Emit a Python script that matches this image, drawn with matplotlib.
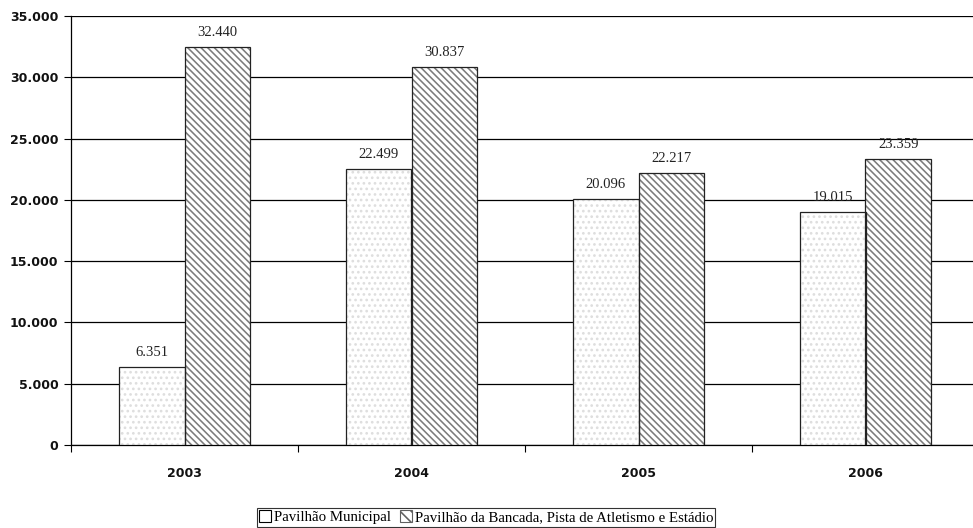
import matplotlib
matplotlib.use("Agg")
import matplotlib.pyplot as plt
import numpy as np
from matplotlib.patches import Patch

years = ["2003", "2004", "2005", "2006"]
municipal = [6351, 22499, 20096, 19015]
bancada = [32440, 30837, 22217, 23359]
labels_municipal = ["6.351", "22.499", "20.096", "19.015"]
labels_bancada = ["32.440", "30.837", "22.217", "23.359"]
yticks = [0, 5000, 10000, 15000, 20000, 25000, 30000, 35000]
ytick_labels = ["0", "5.000", "10.000", "15.000", "20.000", "25.000", "30.000", "35.000"]
series_names = ["Pavilhão Municipal", "Pavilhão da Bancada, Pista de Atletismo e Estádio"]

serif = ["Liberation Serif", "DejaVu Serif"]
diag = "\\" * 5

plt.rcParams["hatch.linewidth"] = 1.15

fig = plt.figure(figsize=(9.73, 5.28), dpi=100)
ax = fig.add_axes([71 / 973, 83 / 528, 908 / 973, 429 / 528])

x = np.arange(len(years))
w = 0.29

# filled bodies with patterns
ax.bar(x - w / 2, municipal, w, align="center", color="white",
       edgecolor="#dedede", hatch="...", linewidth=0, zorder=3)
ax.bar(x + w / 2, bancada, w, align="center", color="white",
       edgecolor="#7c7c7c", hatch=diag, linewidth=0, zorder=3)
# outlines
ax.bar(x - w / 2, municipal, w, align="center", fill=False,
       edgecolor="#222222", linewidth=0.9, zorder=4)
ax.bar(x + w / 2, bancada, w, align="center", fill=False,
       edgecolor="#222222", linewidth=0.9, zorder=4)

for xi, v, s in zip(x, municipal, labels_municipal):
    ax.text(xi - w / 2, v + 650, s, ha="center", va="bottom",
            fontsize=10.5, family=serif, color="#222222")
for xi, v, s in zip(x, bancada, labels_bancada):
    ax.text(xi + w / 2, v + 650, s, ha="center", va="bottom",
            fontsize=10.5, family=serif, color="#222222")

ax.set_xlim(-0.5, len(years) - 0.5)
ax.set_ylim(0, 35000)
ax.set_yticks(yticks)
ax.set_yticklabels(ytick_labels, fontsize=9, fontweight="bold", color="#111111")
ax.yaxis.grid(True, color="black", linewidth=0.9, zorder=0)
ax.set_axisbelow(True)

ax.set_xticks(x)
ax.set_xticklabels(years, fontsize=9, fontweight="bold", color="#111111")
ax.tick_params(axis="x", length=0, pad=16)
ax.set_xticks(np.arange(len(years) + 1) - 0.5, minor=True)
ax.tick_params(axis="x", which="minor", length=5, width=0.8, direction="out")
ax.tick_params(axis="y", length=5, width=0.8, direction="out", pad=4)

for side in ["top", "right"]:
    ax.spines[side].set_visible(False)
ax.spines["left"].set_linewidth(0.9)
ax.spines["bottom"].set_linewidth(0.9)

handles = [
    Patch(facecolor="white", edgecolor="black", linewidth=0.8),
    Patch(facecolor="white", edgecolor="#606060", hatch="\\\\\\", linewidth=0.8),
]
leg = fig.legend(handles, series_names, loc="lower center",
                 bbox_to_anchor=(486 / 973, 0.0), ncol=2, frameon=True,
                 fancybox=False, edgecolor="black", handlelength=0.8,
                 handleheight=0.8, handletextpad=0.2, columnspacing=0.6,
                 borderpad=0.15, borderaxespad=0.1,
                 prop={"family": serif, "size": 10.7})
leg.get_frame().set_linewidth(0.8)

fig.savefig("out.png", dpi=100)
